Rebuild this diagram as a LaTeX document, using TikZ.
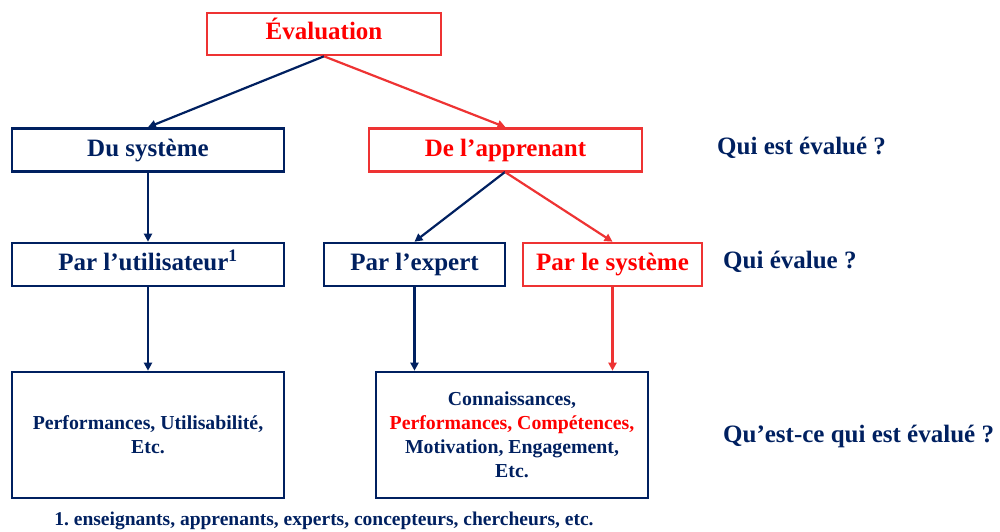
\documentclass[tikz,border=0pt]{standalone}
\usepackage{fontspec}
\setmainfont{Liberation Serif}
\usetikzlibrary{arrows.meta}
\frenchspacing
\definecolor{navy}{HTML}{002060}
\definecolor{rtext}{HTML}{FF0000}
\definecolor{rline}{HTML}{EE3333}
\tikzset{
  box/.style={draw=navy, line width=2.6pt, text=navy, font=\bfseries\fontsize{25}{28}\selectfont, inner sep=0pt, text height=18pt, text depth=6pt},
  rbox/.style={box, draw=rline, text=rtext},
  bigbox/.style={draw=navy, line width=2.6pt, text=navy, inner sep=0pt, font=\bfseries\fontsize{19.8}{24}\selectfont, align=center},
  q/.style={text=navy, font=\bfseries\fontsize{25}{28}\selectfont, inner sep=0pt},
  arr/.style={draw=navy, line width=2.2pt, -{Triangle[length=8pt,width=8pt]}},
  rarr/.style={arr, draw=rline, -{Triangle[length=8pt,width=8pt,fill=rline]}},
}
\begin{document}
\begin{tikzpicture}[x=1pt,y=-1pt]
\useasboundingbox (0,0) rectangle (1000,532);
\node[rbox, minimum width=234pt, minimum height=42pt] (eval) at (324,34) {Évaluation};
\node[box, minimum width=272pt, minimum height=43pt] (sys) at (148,150) {Du système};
\node[rbox, minimum width=273pt, minimum height=43pt] (app) at (505.5,150) {De l’apprenant};
\node[box, minimum width=272pt, minimum height=43pt] (util) at (148,264.5) {Par l’utilisateur\textsuperscript{1}};
\node[box, minimum width=181pt, minimum height=43pt] (exp) at (414.5,264.5) {Par l’expert};
\node[rbox, minimum width=179pt, minimum height=43pt] (psys) at (612.5,264.5) {Par le système};
\node[bigbox, minimum width=272pt, minimum height=126pt] (b1) at (148,435) {Performances, Utilisabilité,\\Etc.};
\node[bigbox, minimum width=272pt, minimum height=126pt] (b2) at (512,435) {Connaissances,\\\textcolor{rtext}{Performances, Compétences,}\\Motivation, Engagement,\\Etc.};
\node[q, anchor=base west] (q1) at (717,154) {Qui est évalué ?};
\node[q, anchor=base west] (q2) at (723,268) {Qui évalue ?};
\node[q, anchor=base west] (q3) at (723,442) {Qu’est-ce qui est évalué ?};
\node[text=navy, font=\bfseries\fontsize{19.5}{22}\selectfont, inner sep=0pt, anchor=base] (fn) at (324,525) {1. enseignants, apprenants, experts, concepteurs, chercheurs, etc.};
\coordinate (e0) at (eval.south);
\draw[arr] (e0) -- (sys.north);
\draw[rarr] (e0) -- (app.north);
\draw[arr] (sys.south) -- (util.north);
\coordinate (a0) at (505,172);
\draw[arr] (a0) -- (exp.north);
\draw[rarr] (a0) -- (psys.north);
\draw[arr] (util.south) -- (b1.north);
\draw[arr] (exp.south) -- (exp.south |- b2.north);
\draw[rarr] (psys.south) -- (psys.south |- b2.north);
\end{tikzpicture}
\end{document}
